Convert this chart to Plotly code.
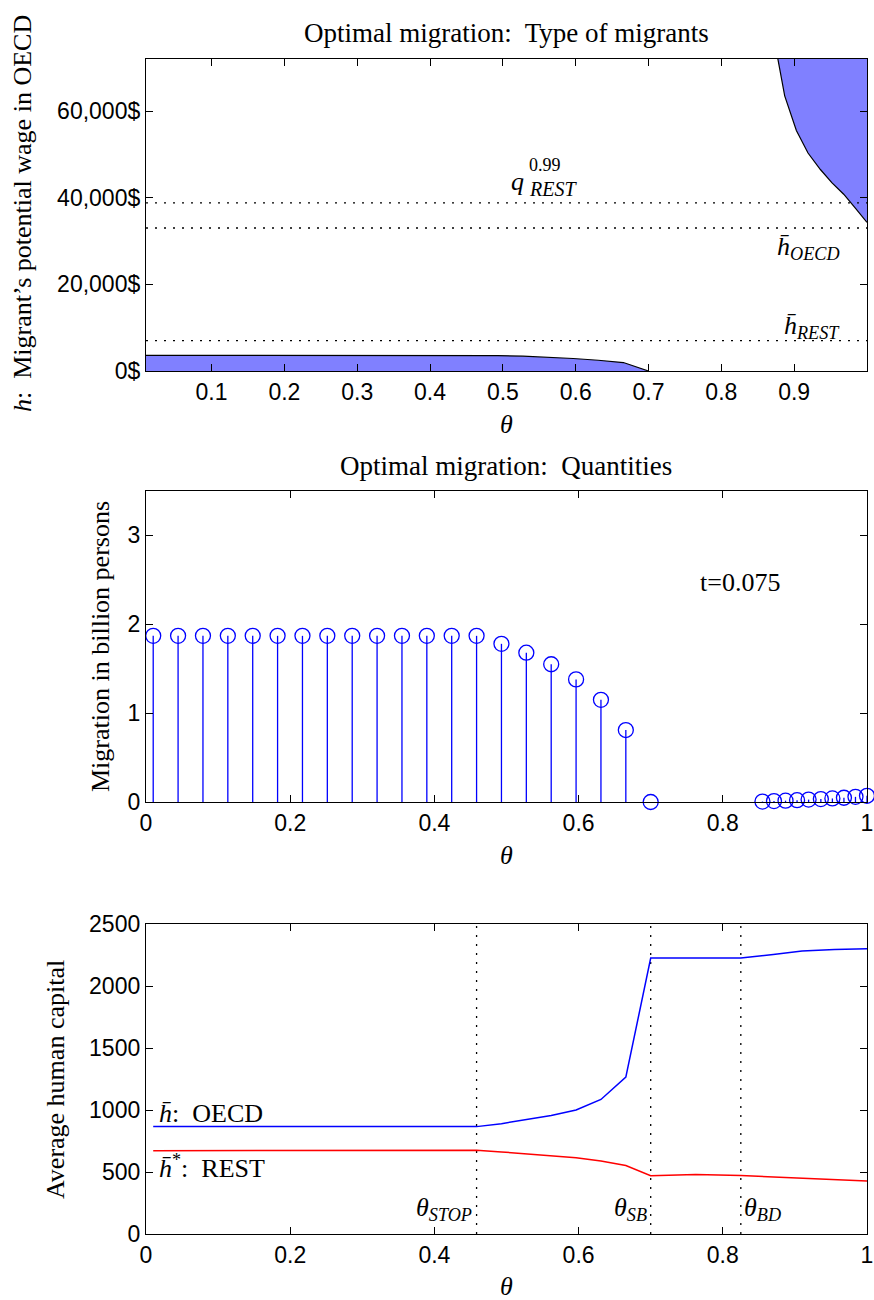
import plotly.graph_objects as go

# ---------------- data ----------------
# theta grid (low part, 21 points) and high part (10 points)
theta_low = [0.01, 0.0445, 0.079, 0.1135, 0.148, 0.1825, 0.217, 0.2515, 0.286, 0.3205,
             0.355, 0.3895, 0.424, 0.4585, 0.493, 0.5275, 0.562, 0.5965, 0.631, 0.6655, 0.70]
theta_high = [0.855, 0.871, 0.887, 0.903, 0.919, 0.936, 0.952, 0.968, 0.984, 1.0]

# Panel 1: type of migrants (potential wage in OECD, $)
wage_low_band = [3600, 3600, 3600, 3600, 3600, 3600, 3600, 3600, 3600, 3600,
                 3600, 3600, 3600, 3600, 3560, 3420, 3180, 2880, 2480, 1950, 0]
wage_high_band = [95000, 78000, 63500, 55500, 50300, 46500, 43400, 40800, 37600, 34300]
wage_axis_top = 72000
q99_rest = 38800
hbar_oecd_wage = 33000
hbar_rest_wage = 7000

# Panel 2: migration quantities (billion persons)
migration_low = [1.87, 1.87, 1.87, 1.87, 1.87, 1.87, 1.87, 1.87, 1.87, 1.87,
                 1.87, 1.87, 1.87, 1.87, 1.78, 1.68, 1.55, 1.38, 1.15, 0.81, 0.0]
migration_high = [0.005, 0.01, 0.015, 0.02, 0.027, 0.033, 0.04, 0.048, 0.058, 0.07]
t_label = "t=0.075"

# Panel 3: average human capital
theta_hc = theta_low + [0.7625, 0.825, 0.87, 0.91, 0.955, 1.0]
hbar_oecd = [866, 866, 866, 866, 866, 866, 866, 866, 866, 866,
             866, 866, 866, 866, 890, 922, 955, 1000, 1085, 1265, 2225,
             2225, 2225, 2255, 2282, 2295, 2300]
hbar_rest = [672, 672, 672, 672, 673, 673, 673, 673, 674, 674,
             674, 675, 675, 676, 662, 648, 634, 614, 588, 552, 470,
             480, 472, 462, 452, 440, 428]
theta_stop, theta_sb, theta_bd = 0.4585, 0.70, 0.825

# tick labels
wage_tickvals = [0, 20000, 40000, 60000]
wage_ticktext = ["0$", "20,000$", "40,000$", "60,000$"]
top_xticks = [0.1, 0.2, 0.3, 0.4, 0.5, 0.6, 0.7, 0.8, 0.9]
top_xtext = ["0.1", "0.2", "0.3", "0.4", "0.5", "0.6", "0.7", "0.8", "0.9"]
unit_xticks = [0, 0.2, 0.4, 0.6, 0.8, 1.0]
unit_xtext = ["0", "0.2", "0.4", "0.6", "0.8", "1"]
mig_yticks = [0, 1, 2, 3]
hc_yticks = [0, 500, 1000, 1500, 2000, 2500]

# ---------------- style ----------------
W, H = 874, 1300
SERIF = "Liberation Serif"
SANS = "Liberation Sans"
FILL = "rgb(128,128,255)"
BLUE = "rgb(0,0,255)"
RED = "rgb(255,0,0)"
DOT = "2px,7px"

def px_x(p):
    return p / W

def px_y(p):
    return 1 - p / H

fig = go.Figure()

# ----- Panel 1 -----
fig.add_trace(go.Scatter(x=theta_low, y=wage_low_band, mode="lines",
                         line=dict(color="black", width=1.2), fill="tozeroy",
                         fillcolor=FILL, xaxis="x", yaxis="y", showlegend=False))
fig.add_trace(go.Scatter(x=theta_high, y=[wage_axis_top * 1.5] * len(theta_high), mode="lines",
                         line=dict(color="rgba(0,0,0,0)", width=0),
                         xaxis="x", yaxis="y", showlegend=False))
fig.add_trace(go.Scatter(x=theta_high, y=wage_high_band, mode="lines",
                         line=dict(color="black", width=1.2), fill="tonexty",
                         fillcolor=FILL, xaxis="x", yaxis="y", showlegend=False))
for lvl in [q99_rest, hbar_oecd_wage, hbar_rest_wage]:
    fig.add_trace(go.Scatter(x=[theta_low[0], theta_high[-1]], y=[lvl, lvl], mode="lines",
                             line=dict(color="black", width=1.3, dash=DOT),
                             xaxis="x", yaxis="y", showlegend=False))

# ----- Panel 2 -----
stem_x, stem_y = [], []
for tx, vy in zip(theta_low + theta_high, migration_low + migration_high):
    stem_x += [tx, tx, None]
    stem_y += [0, vy, None]
fig.add_trace(go.Scatter(x=stem_x, y=stem_y, mode="lines",
                         line=dict(color=BLUE, width=1.3),
                         xaxis="x2", yaxis="y2", showlegend=False))
fig.add_trace(go.Scatter(x=theta_low + theta_high, y=migration_low + migration_high,
                         mode="markers",
                         marker=dict(symbol="circle-open", size=15, color=BLUE,
                                     line=dict(color=BLUE, width=1.3)),
                         xaxis="x2", yaxis="y2", showlegend=False, cliponaxis=False))

# ----- Panel 3 -----
for tv in [theta_stop, theta_sb, theta_bd]:
    fig.add_trace(go.Scatter(x=[tv, tv], y=[hc_yticks[0], hc_yticks[-1]], mode="lines",
                             line=dict(color="black", width=1.3, dash=DOT),
                             xaxis="x3", yaxis="y3", showlegend=False))
fig.add_trace(go.Scatter(x=theta_hc, y=hbar_oecd, mode="lines",
                         line=dict(color=BLUE, width=1.5),
                         xaxis="x3", yaxis="y3", showlegend=False))
fig.add_trace(go.Scatter(x=theta_hc, y=hbar_rest, mode="lines",
                         line=dict(color=RED, width=1.5),
                         xaxis="x3", yaxis="y3", showlegend=False))

# ---------------- axes ----------------
xdom = [px_x(146), px_x(867)]

def axis_common(**kw):
    d = dict(showline=True, linecolor="black", linewidth=1.3, mirror="allticks",
             ticks="inside", ticklen=7, tickwidth=1, tickcolor="black",
             showgrid=False, zeroline=False, automargin=False,
             tickfont=dict(family=SANS, size=23, color="black"))
    d.update(kw)
    return d

fig.update_layout(
    width=W, height=H, margin=dict(l=0, r=0, t=0, b=0, autoexpand=False),
    paper_bgcolor="white", plot_bgcolor="white", showlegend=False,
    xaxis=axis_common(domain=xdom, anchor="y", range=[theta_low[0], theta_high[-1]],
                      tickvals=top_xticks, ticktext=top_xtext),
    yaxis=axis_common(domain=[px_y(371), px_y(59)], anchor="x", range=[0, wage_axis_top],
                      tickvals=wage_tickvals, ticktext=wage_ticktext),
    xaxis2=axis_common(domain=xdom, anchor="y2", range=[0, 1],
                       tickvals=unit_xticks, ticktext=unit_xtext),
    yaxis2=axis_common(domain=[px_y(802), px_y(491)], anchor="x2", range=[0, 3.5],
                       tickvals=mig_yticks, ticktext=[str(v) for v in mig_yticks]),
    xaxis3=axis_common(domain=xdom, anchor="y3", range=[0, 1],
                       tickvals=unit_xticks, ticktext=unit_xtext),
    yaxis3=axis_common(domain=[px_y(1234), px_y(924)], anchor="x3", range=[0, 2500],
                       tickvals=hc_yticks, ticktext=[str(v) for v in hc_yticks]),
)

# ---------------- text ----------------
ann = []
def paper_text(text, xp, yp, size=26, angle=0, xanchor="center", yanchor="middle"):
    ann.append(dict(text=text, x=px_x(xp), y=px_y(yp), xref="paper", yref="paper",
                    showarrow=False, textangle=angle, xanchor=xanchor, yanchor=yanchor,
                    font=dict(family=SERIF, size=size, color="black")))

def data_text(text, x, y, xr, yr, size=26, xanchor="center", yanchor="middle"):
    ann.append(dict(text=text, x=x, y=y, xref=xr, yref=yr, showarrow=False,
                    xanchor=xanchor, yanchor=yanchor,
                    font=dict(family=SERIF, size=size, color="black")))

# titles
paper_text("Optimal migration:  Type of migrants", 506, 33, size=27)
paper_text("Optimal migration:  Quantities", 506, 466, size=27)
# x titles
paper_text("<i>θ</i>", 506, 425)
paper_text("<i>θ</i>", 506, 855)
paper_text("<i>θ</i>", 506, 1286)
# y titles
paper_text("<i>h</i>:  Migrant’s potential wage in OECD", 22, 214, angle=-90)
paper_text("Migration in billion persons", 100, 647, angle=-90)
paper_text("Average human capital", 55, 1080, angle=-90)

# panel 1 labels (q with stacked super/subscript)
data_text("<i>q</i>", 0.532, 43800, "x", "y", xanchor="right")
data_text("0.99", 0.533, 47600, "x", "y", size=18, xanchor="left")
data_text("<i>REST</i>", 0.533, 41900, "x", "y", size=20, xanchor="left")
data_text("<i>h̄</i><sub><i>OECD</i></sub>", 0.92, 28300, "x", "y")
data_text("<i>h̄</i><sub><i>REST</i></sub>", 0.925, 10200, "x", "y")
# panel 2 label
data_text(t_label, 0.765, 2.47, "x2", "y2", size=26, xanchor="left")
# panel 3 labels
data_text("<i>h̄</i>:  OECD", 0.015, 975, "x3", "y3", xanchor="left")
data_text("<i>h̄</i><sup>*</sup>:  REST", 0.015, 545, "x3", "y3", xanchor="left")
data_text("<i>θ</i><sub><i>STOP</i></sub>", theta_stop - 0.003, 200, "x3", "y3", xanchor="right")
data_text("<i>θ</i><sub><i>SB</i></sub>", theta_sb - 0.003, 200, "x3", "y3", xanchor="right")
data_text("<i>θ</i><sub><i>BD</i></sub>", theta_bd + 0.002, 200, "x3", "y3", xanchor="left")

fig.update_layout(annotations=ann)
fig.write_html("out.html",
               config={"displayModeBar": False},
               post_script="document.body.style.margin='0px';"
                           "document.body.style.overflow='hidden';")
